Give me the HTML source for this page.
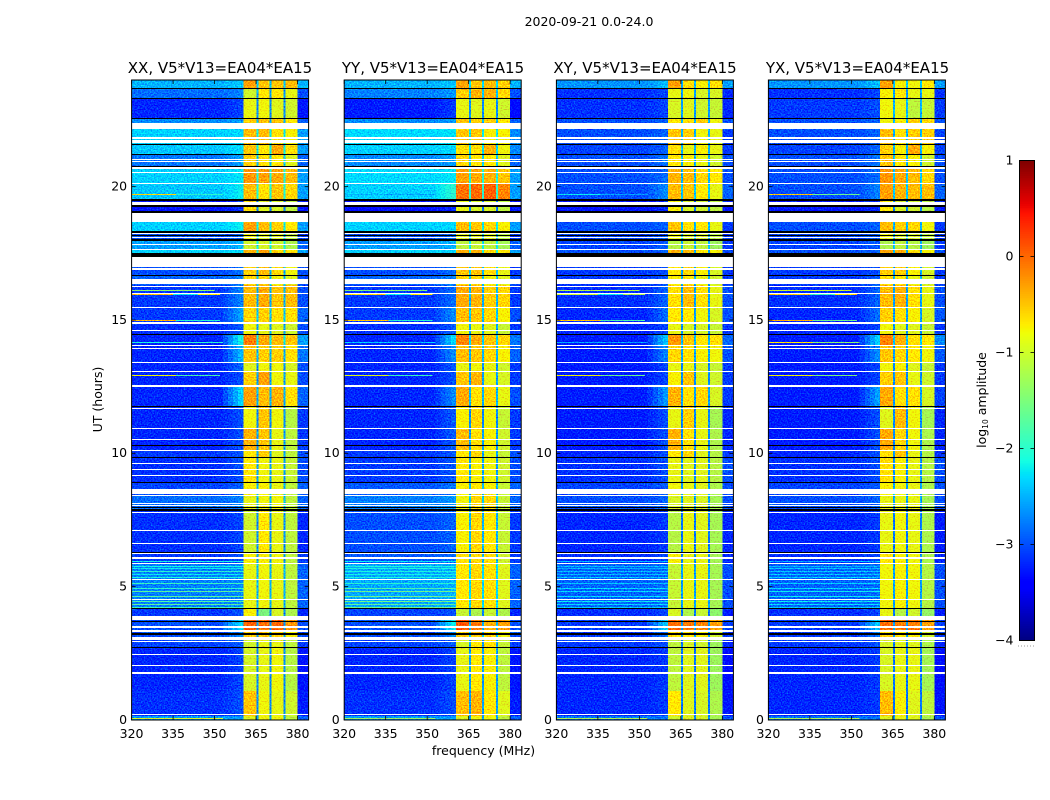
<!DOCTYPE html>
<html lang="en">
<head>
<meta charset="utf-8">
<title>2020-09-21 0.0-24.0</title>
<style>
html,body{margin:0;padding:0;background:#fff;}
svg{display:block;}
text{font-family:"DejaVu Sans","Liberation Sans",sans-serif;fill:#000;}
</style>
</head>
<body>
<svg id="figure" xmlns="http://www.w3.org/2000/svg" width="1050" height="800" viewBox="0 0 1050 800">
  <defs>
    <filter id="speckle" x="0" y="0" width="1" height="1" color-interpolation-filters="sRGB">
      <feTurbulence type="fractalNoise" baseFrequency="0.7 0.75" numOctaves="1" seed="7" result="n"/>
      <feColorMatrix in="n" type="matrix" values="0 0 0 0 0.5  1 0 0 0 0  0 0 0 0 0.5  0 0 0 0 1" result="mono"/>
      <feComposite in="SourceGraphic" in2="mono" operator="arithmetic" k1="0" k2="1" k3="1.1" k4="-0.55"/>
    </filter>
  </defs>
  <rect x="0" y="0" width="1050" height="800" fill="#fff"/>
  <text x="589" y="26" font-size="12.5" text-anchor="middle">2020-09-21 0.0-24.0</text>
  <text x="220" y="73" font-size="15" text-anchor="middle">XX, V5*V13=EA04*EA15</text>
  <text x="433" y="73" font-size="15" text-anchor="middle">YY, V5*V13=EA04*EA15</text>
  <text x="645" y="73" font-size="15" text-anchor="middle">XY, V5*V13=EA04*EA15</text>
  <text x="857.5" y="73" font-size="15" text-anchor="middle">YX, V5*V13=EA04*EA15</text>
  <text transform="translate(102 399.5) rotate(-90)" font-size="12.5" text-anchor="middle">UT (hours)</text>
  <text x="483.5" y="755" font-size="12.5" text-anchor="middle">frequency (MHz)</text>
  <text transform="translate(986 400) rotate(-90)" font-size="12.5" text-anchor="middle">log<tspan font-size="7.5" dy="2">10</tspan><tspan dy="-2"> amplitude</tspan></text>
  <g id="plots"></g>
  <g id="colorbar"></g>
</svg>
<script>
// Axis tick labels
const freqTicks = [320, 335, 350, 365, 380];
const utTicks = [0, 5, 10, 15, 20];
const colorTicks = [1, 0, -1, -2, -3, -4];
const panelNames = ['xx', 'yy', 'xy', 'yx'];

// Frequency band edges in MHz: low, shoulder, sb1, gap, sb2, gap, sb3, gap, sb4, high
const bandEdges = [320, 353, 360.4, 365.1, 365.8, 369.8, 370.5, 374.9, 375.6, 380, 384];

// Time boundaries (hours) of the observation segments, top to bottom
const segmentEdges = [24, 23.68, 23.31, 22.55, 22.18, 21.59, 21.2, 20.76, 20.15, 19.5, 18.75, 18.3, 17.98, 17.64, 17.4, 16.66, 16.3, 15.46, 14.9, 14.47, 14.08, 13.4, 13.08, 12.54, 11.78, 10.93, 10.12, 9.85, 8.9, 8.45, 7.88, 6.28, 5.9, 4.18, 3.75, 3.36, 3, 2.73, 1.1, 0.16, 0];

// log10 amplitude per segment; columns: low, shoulder, sb1, gap, sb2, sb3, sb4, high
const levelsXX = [
[-2.5,-2.4,-0.3,-2.4,-0.5,-0.5,-0.45,-2.5],
[-2.85,-2.75,-1.0,-2.6,-0.7,-0.7,-0.85,-3.0],
[-3.2,-3.05,-0.85,-2.7,-0.8,-0.9,-1.0,-3.3],
[-2.7,-2.6,-0.55,-2.5,-0.5,-0.5,-0.7,-2.9],
[-2.35,-2.3,-0.45,-2.2,-0.45,-0.65,-0.75,-2.6],
[-2.4,-2.3,-0.5,-2.2,-0.7,-0.35,-0.65,-2.6],
[-2.8,-2.6,-0.55,-2.4,-0.65,-0.7,-0.9,-2.9],
[-2.35,-2.25,-0.25,-2.1,-0.3,-0.35,-0.45,-2.6],
[-2.4,-2.2,-0.45,-2.1,-0.65,-0.5,-0.6,-2.6],
[-3.3,-3.15,-0.65,-2.8,-0.9,-0.95,-1.1,-3.3],
[-2.35,-2.2,-0.3,-2.2,-0.45,-0.55,-0.7,-2.6],
[-3.0,-2.9,-0.8,-2.5,-0.9,-0.9,-1.1,-3.1],
[-2.6,-2.5,-1.0,-2.2,-0.95,-1.0,-1.2,-2.9],
[-2.35,-2.3,-0.4,-2.1,-0.3,-0.6,-0.7,-2.6],
[-3.0,-2.85,-0.55,-2.5,-0.45,-0.6,-0.8,-3.0],
[-2.9,-2.75,-0.6,-2.4,-0.6,-0.8,-0.9,-3.0],
[-3.1,-2.75,-0.45,-2.5,-0.35,-0.5,-0.45,-3.0],
[-3.1,-2.6,-0.6,-2.4,-0.55,-0.65,-0.65,-2.9],
[-3.15,-2.95,-0.8,-2.6,-0.85,-0.9,-1.0,-3.0],
[-3.2,-2.15,-0.1,-2.2,-0.35,-0.45,-0.5,-2.6],
[-3.2,-2.5,-0.5,-2.5,-0.55,-0.55,-0.65,-2.8],
[-3.2,-2.9,-0.9,-2.7,-0.8,-0.8,-0.95,-3.0],
[-3.2,-3.0,-0.55,-2.6,-0.3,-0.8,-0.85,-3.0],
[-3.2,-2.35,-0.3,-2.5,-0.45,-0.4,-0.65,-2.9],
[-3.2,-3.0,-0.8,-2.7,-0.5,-0.8,-1.15,-3.1],
[-3.2,-3.0,-0.4,-2.6,-0.5,-0.85,-1.1,-3.1],
[-3.1,-2.95,-0.7,-2.6,-0.55,-0.9,-1.1,-3.0],
[-3.15,-3.0,-0.7,-2.6,-0.8,-0.85,-1.05,-3.0],
[-3.05,-2.9,-0.75,-2.5,-0.75,-0.85,-1.1,-2.9],
[-2.85,-2.75,-0.85,-2.5,-0.8,-0.8,-1.1,-2.9],
[-3.15,-3.05,-1.0,-2.7,-0.7,-0.85,-1.1,-3.2],
[-3.1,-3.0,-0.75,-2.6,-0.75,-0.8,-1.1,-3.1],
[-2.75,-2.7,-0.85,-2.5,-0.8,-0.85,-1.1,-2.9],
[-3.1,-3.0,-0.75,-2.7,-1.5,-0.95,-1.2,-3.2],
[-3.0,-2.3,0.05,-2.6,-0.05,0.0,-0.25,-3.0],
[-3.0,-2.7,-0.55,-2.5,-0.55,-0.6,-0.75,-3.0],
[-3.05,-2.95,-1.0,-2.7,-0.85,-0.85,-1.1,-3.1],
[-3.2,-3.05,-0.95,-2.7,-0.85,-0.8,-1.15,-3.3],
[-3.15,-3.0,-0.5,-2.7,-0.8,-0.85,-1.0,-3.25],
[-2.6,-2.6,-0.9,-2.6,-0.8,-0.8,-1.1,-2.9]
];
const levelsYY = [
[-2.5,-2.4,-0.3,-2.3,-0.5,-0.45,-0.55,-2.5],
[-2.75,-2.65,-0.55,-2.4,-0.4,-0.4,-0.6,-3.0],
[-3.25,-3.1,-0.85,-2.7,-0.9,-0.85,-1.0,-3.4],
[-2.7,-2.6,-0.5,-2.5,-0.55,-0.55,-0.7,-2.9],
[-2.3,-2.25,-0.5,-2.2,-0.5,-0.75,-0.75,-2.7],
[-2.35,-2.3,-0.65,-2.3,-0.65,-0.4,-0.8,-2.7],
[-2.7,-2.6,-0.6,-2.4,-0.7,-0.7,-0.9,-2.9],
[-2.3,-2.25,-0.3,-2.1,-0.35,-0.4,-0.5,-2.6],
[-2.35,-2.0,-0.05,-2.0,0.0,0.05,-0.15,-2.6],
[-3.35,-3.2,-0.85,-2.8,-0.95,-0.95,-1.1,-3.3],
[-2.35,-2.3,-0.45,-2.2,-0.5,-0.6,-0.75,-2.6],
[-3.0,-2.9,-0.9,-2.5,-0.9,-0.9,-1.1,-3.1],
[-2.6,-2.5,-1.1,-2.2,-1.05,-1.1,-1.25,-2.9],
[-2.35,-2.3,-0.4,-2.1,-0.4,-0.6,-0.7,-2.6],
[-3.0,-2.85,-0.5,-2.4,-0.5,-0.65,-0.85,-3.1],
[-2.9,-2.75,-0.6,-2.4,-0.6,-0.8,-0.9,-3.0],
[-3.1,-2.85,-0.35,-2.5,-0.4,-0.55,-0.6,-3.1],
[-3.1,-2.7,-0.45,-2.4,-0.5,-0.6,-0.75,-3.0],
[-3.15,-2.95,-0.8,-2.6,-0.85,-0.9,-1.05,-3.1],
[-3.2,-2.3,-0.15,-2.3,-0.35,-0.5,-0.6,-2.8],
[-3.2,-2.7,-0.45,-2.5,-0.5,-0.6,-0.75,-2.9],
[-3.2,-2.95,-0.85,-2.7,-0.8,-0.85,-1.0,-3.1],
[-3.2,-3.0,-0.5,-2.6,-0.4,-0.85,-0.95,-3.1],
[-3.2,-2.7,-0.35,-2.5,-0.65,-0.6,-0.85,-3.0],
[-3.2,-2.95,-0.75,-2.7,-0.6,-0.8,-1.05,-3.1],
[-3.2,-2.95,-0.45,-2.6,-0.65,-0.75,-1.0,-3.1],
[-3.1,-2.95,-0.7,-2.6,-0.6,-0.85,-1.05,-3.0],
[-3.1,-2.95,-0.7,-2.6,-0.75,-0.8,-1.0,-3.0],
[-2.95,-2.8,-0.75,-2.5,-0.7,-0.75,-1.05,-2.9],
[-2.75,-2.65,-0.8,-2.4,-0.6,-0.6,-1.05,-2.9],
[-3.0,-2.9,-0.75,-2.5,-0.6,-0.7,-1.05,-3.1],
[-2.95,-2.85,-0.65,-2.5,-0.6,-0.65,-1.0,-3.1],
[-2.55,-2.5,-0.7,-2.3,-0.6,-0.65,-0.9,-2.9],
[-3.05,-3.0,-1.05,-2.7,-1.2,-1.05,-1.2,-3.2],
[-3.0,-2.2,0.1,-2.5,-0.1,-0.4,-0.3,-3.0],
[-3.0,-2.7,-0.55,-2.4,-0.5,-0.6,-0.8,-3.0],
[-3.05,-2.95,-0.95,-2.6,-0.7,-0.65,-1.05,-3.1],
[-3.2,-3.05,-0.85,-2.6,-0.7,-0.75,-1.1,-3.3],
[-3.15,-3.0,-0.45,-2.6,-0.4,-0.7,-0.9,-3.25],
[-2.6,-2.6,-0.9,-2.6,-0.8,-0.8,-1.1,-2.9]
];
const levelsXY = [
[-2.65,-2.45,-0.3,-2.5,-0.65,-0.75,-0.65,-2.6],
[-3.15,-3.05,-0.85,-2.6,-0.8,-0.95,-0.95,-3.2],
[-3.15,-3.05,-0.95,-2.6,-0.9,-1.0,-1.05,-3.2],
[-3.0,-2.9,-0.7,-2.5,-0.65,-0.55,-0.8,-3.0],
[-3.0,-2.9,-0.5,-2.5,-0.55,-0.8,-0.85,-3.1],
[-3.05,-2.9,-0.65,-2.5,-0.85,-0.75,-0.85,-3.1],
[-3.0,-2.8,-0.7,-2.5,-0.75,-0.85,-1.0,-3.0],
[-3.0,-2.85,-0.4,-2.5,-0.45,-0.6,-0.7,-3.0],
[-3.0,-2.7,-0.45,-2.4,-0.5,-0.7,-0.85,-2.9],
[-3.3,-3.2,-0.75,-2.8,-0.95,-1.0,-1.1,-3.3],
[-3.0,-2.9,-0.5,-2.5,-0.65,-0.7,-0.85,-3.1],
[-3.05,-2.95,-0.8,-2.5,-0.95,-0.95,-1.1,-3.1],
[-3.05,-2.95,-1.15,-2.5,-1.05,-1.1,-1.3,-3.1],
[-3.0,-2.9,-0.4,-2.5,-0.45,-0.7,-0.75,-3.0],
[-3.1,-3.0,-0.7,-2.6,-0.6,-0.75,-0.95,-3.1],
[-3.1,-2.95,-0.75,-2.5,-0.7,-0.85,-1.0,-3.1],
[-3.15,-2.9,-0.65,-2.6,-0.45,-0.65,-0.85,-3.0],
[-3.2,-2.85,-0.7,-2.6,-0.7,-0.8,-0.95,-3.0],
[-3.2,-3.05,-0.85,-2.7,-0.95,-0.95,-1.05,-3.1],
[-3.25,-2.4,-0.25,-2.5,-0.5,-0.7,-0.65,-2.9],
[-3.25,-2.75,-0.6,-2.6,-0.65,-0.75,-0.8,-3.0],
[-3.25,-3.05,-0.85,-2.7,-0.85,-0.95,-1.05,-3.1],
[-3.25,-3.05,-0.75,-2.7,-0.5,-0.9,-1.0,-3.1],
[-3.25,-2.65,-0.4,-2.6,-0.65,-0.6,-0.95,-3.1],
[-3.25,-3.0,-0.85,-2.7,-0.55,-0.85,-1.25,-3.2],
[-3.25,-3.0,-0.4,-2.7,-0.65,-0.85,-1.2,-3.2],
[-3.2,-3.0,-0.7,-2.7,-0.6,-0.9,-1.15,-3.1],
[-3.15,-3.0,-0.85,-2.7,-0.9,-0.9,-1.15,-3.0],
[-3.05,-2.95,-0.8,-2.6,-0.85,-0.9,-1.2,-3.0],
[-3.0,-2.9,-0.95,-2.6,-0.9,-0.95,-1.25,-3.0],
[-3.2,-3.1,-1.15,-2.8,-0.85,-0.9,-1.25,-3.2],
[-3.15,-3.05,-0.75,-2.7,-0.85,-0.85,-1.25,-3.2],
[-2.9,-2.85,-1.05,-2.6,-0.85,-0.85,-1.25,-3.0],
[-3.15,-3.05,-0.95,-2.8,-1.2,-1.05,-1.4,-3.25],
[-3.1,-2.4,0.0,-2.6,-0.1,-0.15,-0.3,-3.05],
[-3.1,-2.8,-0.65,-2.6,-0.7,-0.75,-1.0,-3.1],
[-3.1,-3.0,-1.1,-2.8,-0.95,-1.0,-1.3,-3.2],
[-3.2,-3.1,-1.1,-2.8,-0.9,-0.9,-1.3,-3.35],
[-3.2,-3.1,-0.7,-2.8,-0.9,-0.95,-1.2,-3.3],
[-2.8,-2.8,-1.0,-2.7,-0.9,-0.95,-1.25,-3.0]
];
const levelsYX = [
[-2.65,-2.45,-0.3,-2.4,-0.75,-0.8,-0.7,-2.6],
[-3.15,-3.05,-0.75,-2.6,-0.7,-0.85,-0.85,-3.15],
[-3.1,-3.0,-0.8,-2.5,-0.85,-1.1,-1.05,-3.1],
[-3.0,-2.9,-0.8,-2.5,-0.75,-0.55,-0.6,-3.0],
[-3.0,-2.9,-0.45,-2.5,-0.65,-0.55,-0.55,-3.05],
[-3.05,-2.9,-0.55,-2.5,-0.75,-0.35,-0.75,-3.05],
[-3.0,-2.8,-0.5,-2.5,-0.7,-0.75,-1.0,-3.0],
[-3.0,-2.85,-0.25,-2.4,-0.35,-0.45,-0.6,-3.0],
[-3.0,-2.75,-0.3,-2.4,-0.4,-0.45,-0.45,-2.9],
[-3.3,-3.2,-0.7,-2.8,-0.95,-1.0,-1.15,-3.25],
[-3.0,-2.9,-0.45,-2.5,-0.55,-0.6,-0.8,-3.1],
[-3.05,-2.95,-0.8,-2.5,-0.95,-0.95,-1.1,-3.1],
[-3.05,-2.95,-1.2,-2.5,-1.1,-1.15,-1.3,-3.1],
[-3.0,-2.9,-0.3,-2.5,-0.4,-0.65,-0.75,-3.0],
[-3.1,-3.0,-0.55,-2.6,-0.55,-0.75,-0.95,-3.1],
[-3.1,-2.95,-0.65,-2.5,-0.7,-0.85,-1.0,-3.1],
[-3.15,-2.9,-0.45,-2.6,-0.4,-0.65,-0.85,-3.0],
[-3.2,-2.85,-0.55,-2.6,-0.65,-0.75,-0.95,-2.95],
[-3.2,-3.05,-0.8,-2.7,-0.9,-0.9,-1.05,-3.1],
[-3.25,-2.35,-0.15,-2.4,-0.4,-0.65,-0.7,-2.7],
[-3.25,-2.7,-0.5,-2.6,-0.6,-0.7,-0.8,-2.95],
[-3.25,-3.05,-0.8,-2.7,-0.75,-0.9,-1.05,-3.1],
[-3.25,-3.05,-0.55,-2.7,-0.5,-0.85,-1.0,-3.1],
[-3.25,-2.6,-0.35,-2.6,-0.65,-0.65,-0.95,-3.05],
[-3.25,-3.0,-0.9,-2.7,-0.45,-0.8,-1.25,-3.2],
[-3.25,-3.0,-0.35,-2.7,-0.6,-0.8,-1.2,-3.2],
[-3.2,-3.0,-0.65,-2.7,-0.5,-0.85,-1.15,-3.15],
[-3.15,-3.0,-0.65,-2.7,-0.75,-0.85,-1.15,-3.0],
[-3.05,-2.95,-0.75,-2.6,-0.8,-0.85,-1.2,-3.0],
[-3.0,-2.9,-0.85,-2.6,-0.85,-0.85,-1.25,-3.0],
[-3.2,-3.1,-0.85,-2.8,-0.8,-0.85,-1.2,-3.25],
[-3.15,-3.05,-0.7,-2.7,-0.75,-0.8,-1.2,-3.2],
[-2.9,-2.85,-0.8,-2.6,-0.75,-0.8,-1.15,-3.0],
[-3.15,-3.05,-0.85,-2.8,-1.15,-1.0,-1.35,-3.25],
[-3.1,-2.4,0.0,-2.6,-0.1,-0.1,-0.3,-3.05],
[-3.1,-2.8,-0.6,-2.6,-0.7,-0.75,-1.0,-3.1],
[-3.1,-3.0,-0.95,-2.8,-0.9,-0.9,-1.2,-3.2],
[-3.2,-3.1,-0.95,-2.8,-0.85,-0.85,-1.25,-3.35],
[-3.2,-3.1,-0.45,-2.8,-0.75,-0.9,-1.1,-3.3],
[-2.8,-2.8,-0.9,-2.7,-0.85,-0.9,-1.2,-3.0]
];

// Narrow interference lines in the low band
const rfiTimes = [20.98, 20.98, 19.72, 19.72, 16.95, 16.13, 15.96, 15.96, 15.96, 14.99, 14.99, 14.17, 14.17, 13.41, 13.41, 12.92, 12.92, 0.08];
const rfiStart = [320, 336, 320, 336, 320, 320, 320, 335, 344, 320, 336, 320, 336, 320, 336, 320, 336, 320];
const rfiEnd = [336, 353, 336, 353, 353, 350, 335, 344, 352, 336, 352, 336, 353, 336, 350, 336, 352, 353];
const rfiXX = [-0.7, -1.6, -0.6, -2.0, -1.2, -1.4, -0.5, -2.2, -0.7, -0.4, -2.0, -2.1, -2.0, -0.3, -1.6, -0.8, -1.8, -0.9];
const rfiYY = [-0.4, -1.8, -2.5, -2.6, -0.7, -1.5, -0.6, -2.2, -0.7, -0.5, -2.0, -2.4, -2.4, -0.4, -1.8, -0.9, -1.9, -1.3];
const rfiXY = [-0.4, -1.8, -2.2, -2.6, -1.5, -1.2, -1.0, -2.2, -1.2, -0.5, -1.8, -2.6, -2.6, -0.3, -1.8, -0.8, -1.6, -1.2];
const rfiYX = [-0.5, -1.6, -0.5, -1.6, -1.2, -1.0, -0.5, -1.9, -0.6, -0.4, -1.6, -0.7, -1.4, -0.2, -1.2, -0.8, -1.5, -1.2];

// Bright horizontal stripes between 4.2 h and 6 h in the low band
const stripeTimes = [5.95, 5.78, 5.69, 5.6, 5.48, 5.35, 5.12, 4.95, 4.85, 4.66, 4.47, 4.35, 4.22];
const stripesXX = [-2.1, -2.15, -2.2, -2.0, -2.2, -2.1, -1.9, -2.0, -1.7, -1.7, -1.8, -1.7, -1.9];
const stripesYY = [-2.2, -2.1, -2.1, -2.1, -2.15, -2.1, -2.0, -1.8, -1.6, -1.6, -1.6, -1.7, -1.6];
const stripesXY = [-2.5, -2.5, -2.5, -2.45, -2.45, -2.4, -2.4, -2.3, -2.3, -2.3, -2.2, -2.3, -2.4];
const stripesYX = [-2.5, -2.5, -2.45, -2.4, -2.4, -2.35, -2.35, -2.3, -2.2, -2.2, -2.2, -2.3, -2.4];

// Flagged time ranges [start, end] in hours
const whiteFlags = [[22.39,22.18],[21.85,21.8],[21.75,21.65],[21.03,21],[20.95,20.92],[20.72,20.68],[20.56,20.52],[20.15,20.09],[19.44,19.32],[19,18.75],[18.74,18.69],[18.26,18.22],[18.11,18.07],[17.86,17.82],[17.66,17.62],[17.37,16.97],[16.94,16.88],[16.54,16.35],[16.29,16.25],[16.03,16],[15.47,15.44],[14.94,14.86],[14.61,14.58],[14.08,14.05],[13.96,13.92],[13.41,13.38],[13.08,13.05],[12.58,12.53],[12.52,12.49],[11.7,11.67],[10.95,10.91],[10.53,10.5],[10.14,10.1],[9.63,9.6],[9.41,9.38],[9.2,9.16],[8.68,8.47],[8.44,8.41],[8.12,8.09],[8.05,8.02],[7.81,7.78],[7.14,7.11],[6.65,6.62],[6.25,6.22],[6.1,6.03],[5.9,5.87],[5.27,5.24],[4.55,4.52],[3.91,3.75],[3.54,3.51],[3.48,3.45],[3.39,3.3],[3.11,3],[2.97,2.94],[2.46,2.43],[2.08,2.05],[1.81,1.78],[1.76,1.73],[0.22,0.18]];
const blackFlags = [[23.7,23.66],[23.33,23.29],[22.57,22.53],[21.61,21.57],[21.22,21.18],[20.78,20.74],[19.52,19.47],[19.32,19.25],[19.09,19],[18.32,18.28],[18.19,18.15],[18.02,17.98],[17.85,17.8],[17.5,17.37],[16.68,16.64],[14.49,14.45],[11.79,11.76],[10.3,10.26],[9.87,9.83],[8.93,8.87],[8,7.97],[7.92,7.85],[6.31,6.28],[4.2,4.16],[3.73,3.69],[3.25,3.2],[2.74,2.71]];

const allLevels = [levelsXX, levelsYY, levelsXY, levelsYX];
const allRfi = [rfiXX, rfiYY, rfiXY, rfiYX];
const allStripes = [stripesXX, stripesYY, stripesXY, stripesYX];

const NS = 'http://www.w3.org/2000/svg';
const panelLeft = [131.6, 344.2, 556.4, 768.4];
const panelWidth = 177;
const plotTop = 80;
const plotBottom = 720;
const fMin = 320, fMax = 384, tMin = 0, tMax = 24;
const cMin = -4, cMax = 1;
const shoulderSteps = 4;

function xScale(p, f) { return panelLeft[p] + (f - fMin) / (fMax - fMin) * panelWidth; }
function yScale(t) { return plotBottom - (t - tMin) / (tMax - tMin) * (plotBottom - plotTop); }
function cScale(v) { return 640.5 - (v - cMin) / (cMax - cMin) * 480; }

function jetPart(x, pts) {
  for (let i = 1; i < pts.length; i++) {
    if (x <= pts[i][0]) {
      const a = pts[i - 1], b = pts[i];
      return a[1] + (b[1] - a[1]) * (x - a[0]) / (b[0] - a[0]);
    }
  }
  return pts[pts.length - 1][1];
}
const jetR = [[0,0],[0.35,0],[0.66,1],[0.89,1],[1,0.5]];
const jetG = [[0,0],[0.125,0],[0.375,1],[0.64,1],[0.91,0],[1,0]];
const jetB = [[0,0.5],[0.11,1],[0.34,1],[0.65,0],[1,0]];
function colorOf(level) {
  const x = Math.max(0, Math.min(1, (level - cMin) / (cMax - cMin)));
  const c = [jetPart(x, jetR), jetPart(x, jetG), jetPart(x, jetB)].map(function (v) { return Math.round(v * 255); });
  return 'rgb(' + c.join(',') + ')';
}
function make(tag, attrs, parent) {
  const el = document.createElementNS(NS, tag);
  for (const k in attrs) el.setAttribute(k, attrs[k]);
  parent.appendChild(el);
  return el;
}
function rowBox(t0, t1) {
  const y0 = Math.round(yScale(t0));
  const y1 = Math.max(y0 + 1, Math.round(yScale(t1)));
  return { y: y0, height: y1 - y0 };
}

const plots = document.getElementById('plots');
const bandToColumn = [0, 1, 2, 3, 4, 3, 5, 3, 6, 7];

panelNames.forEach(function (name, p) {
  const panel = make('g', {}, plots);
  
  

  const heat = make('g', { filter: 'url(#speckle)', 'shape-rendering': 'crispEdges' }, panel);
  
  

  allLevels[p].forEach(function (row, s) {
    const box = rowBox(segmentEdges[s], segmentEdges[s + 1]);
    bandToColumn.forEach(function (col, b) {
      const x0 = xScale(p, bandEdges[b]);
      const x1 = xScale(p, bandEdges[b + 1]);
      if (col === 1) {
        // the shoulder ramps from the low-band level up to its own level
        for (let k = 0; k < shoulderSteps; k++) {
          const w = (x1 - x0) / shoulderSteps;
          const ramp = row[0] + (row[1] - row[0]) * (k + 1) / shoulderSteps;
          const step = make('rect', { x: x0 + k * w, y: box.y, width: w, height: box.height, fill: colorOf(ramp) }, heat);
          
          
        }
        return;
      }
      const cell = make('rect', { x: x0, y: box.y, width: x1 - x0, height: box.height, fill: colorOf(row[col]) }, heat);
      
      
    });
  });

  stripeTimes.forEach(function (t, i) {
    const x0 = xScale(p, bandEdges[0]);
    const x1 = xScale(p, bandEdges[2]);
    const stripe = make('rect', { x: x0, y: Math.round(yScale(t)), width: x1 - x0, height: 1, fill: colorOf(allStripes[p][i]) }, heat);
    
    
  });

  rfiTimes.forEach(function (t, i) {
    const x0 = xScale(p, rfiStart[i]);
    const x1 = xScale(p, rfiEnd[i]);
    const line = make('rect', { x: x0, y: Math.round(yScale(t)), width: x1 - x0, height: 1, fill: colorOf(allRfi[p][i]) }, heat);
    
    
  });

  const flagGroup = make('g', { 'shape-rendering': 'crispEdges' }, panel);
  
  
  blackFlags.forEach(function (fl) {
    const box = rowBox(fl[0], fl[1]);
    const r = make('rect', { x: xScale(p, fMin), y: box.y, width: panelWidth, height: box.height, fill: '#000' }, flagGroup);
    
    
  });
  whiteFlags.forEach(function (fl) {
    const box = rowBox(fl[0], fl[1]);
    const r = make('rect', { x: xScale(p, fMin), y: box.y, width: panelWidth, height: box.height, fill: '#fff' }, flagGroup);
    
    
  });

  freqTicks.forEach(function (f) {
    const x = xScale(p, f);
    const top = make('line', { x1: x, x2: x, y1: plotTop, y2: plotTop + 4, stroke: '#000', 'stroke-width': 0.8 }, panel);
    
    
    const bot = make('line', { x1: x, x2: x, y1: plotBottom, y2: plotBottom - 4, stroke: '#000', 'stroke-width': 0.8 }, panel);
    
    
    const lab = make('text', { x: x, y: 738, 'font-size': 12.5, 'text-anchor': 'middle' }, panel);
    
    
    lab.textContent = f;
  });
  utTicks.forEach(function (t) {
    const y = yScale(t);
    const left = xScale(p, fMin), right = xScale(p, fMax);
    const l = make('line', { x1: left, x2: left + 4, y1: y, y2: y, stroke: '#000', 'stroke-width': 0.8 }, panel);
    
    
    const r = make('line', { x1: right, x2: right - 4, y1: y, y2: y, stroke: '#000', 'stroke-width': 0.8 }, panel);
    
    
    const lab = make('text', { x: left - 4.5, y: y + 3.8, 'font-size': 12.5, 'text-anchor': 'end' }, panel);
    
    
    lab.textContent = t;
  });

  const frame = make('rect', { x: xScale(p, fMin), y: plotTop, width: panelWidth, height: plotBottom - plotTop, fill: 'none', stroke: '#000', 'stroke-width': 1 }, panel);
  
  
});

// Colorbar
const bar = document.getElementById('colorbar');
const barLeft = 1019.5, barRight = 1034.5;
for (let i = 0; i < 256; i++) {
  const v0 = cMin + (cMax - cMin) * i / 256;
  const v1 = cMin + (cMax - cMin) * (i + 1) / 256;
  const seg = make('rect', { x: barLeft, y: cScale(v1), width: barRight - barLeft, height: cScale(v0) - cScale(v1) + 0.4, fill: colorOf((v0 + v1) / 2), 'shape-rendering': 'crispEdges' }, bar);
  
  
}
colorTicks.forEach(function (v) {
  const y = cScale(v);
  const l = make('line', { x1: barLeft, x2: barLeft + 4, y1: y, y2: y, stroke: '#000', 'stroke-width': 0.8 }, bar);
  
  
  const r = make('line', { x1: barRight, x2: barRight - 4, y1: y, y2: y, stroke: '#000', 'stroke-width': 0.8 }, bar);
  
  
  const lab = make('text', { x: 1013.5, y: y + 3.8, 'font-size': 12.5, 'text-anchor': 'end' }, bar);
  
  
  lab.textContent = String(v).replace('-', '\u2212');
});
const barFrame = make('rect', { x: barLeft, y: cScale(cMax), width: barRight - barLeft, height: cScale(cMin) - cScale(cMax), fill: 'none', stroke: '#000', 'stroke-width': 1 }, bar);


const dots = make('line', { x1: 1018, x2: 1035, y1: 646, y2: 646, stroke: '#999', 'stroke-width': 1, 'stroke-dasharray': '1 2' }, bar);


</script>
</body>
</html>
